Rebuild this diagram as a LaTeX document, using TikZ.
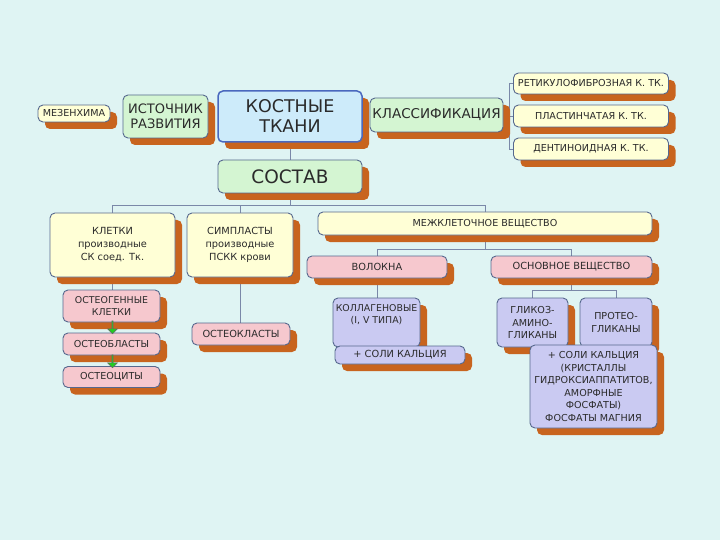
\documentclass[tikz,border=0pt]{standalone}
\usepackage{fontspec}
\setmainfont{DejaVu Sans}
\usetikzlibrary{shadows,shapes.arrows}
\definecolor{bg}{HTML}{DFF4F3}
\definecolor{bordc}{HTML}{56688E}
\definecolor{kostb}{HTML}{4A68BE}
\definecolor{shadc}{HTML}{C8641E}
\definecolor{linec}{HTML}{7A88A8}
\definecolor{txtc}{HTML}{2A2A2A}
\definecolor{creamc}{HTML}{FFFFD6}
\definecolor{greenc}{HTML}{D4F5D2}
\definecolor{bluec}{HTML}{CDEBFA}
\definecolor{pinkc}{HTML}{F6C8CE}
\definecolor{lavc}{HTML}{CACAF2}
\definecolor{arrc}{HTML}{22CC22}
\newcommand\fsz[2]{\fontsize{#1pt}{#2pt}\selectfont}
\pgfdeclarelayer{back}
\pgfdeclarelayer{lines}
\pgfsetlayers{back,lines,main}
\begin{document}
\begin{tikzpicture}[x=1pt,y=-1pt,
  box/.style={draw=bordc, line width=0.9pt, rounded corners=5pt,
    drop shadow={shadow xshift=7pt, shadow yshift=-7pt, fill=shadc, opacity=1},
    inner sep=1pt, align=center, text=txtc},
  cream/.style={box, fill=creamc},
  grn/.style={box, fill=greenc},
  blu/.style={box, fill=bluec, draw=kostb, line width=1.5pt},
  pnk/.style={box, fill=pinkc},
  lav/.style={box, fill=lavc},
  conn/.style={draw=linec, line width=0.6pt},
  garr/.style={single arrow, draw=black!60, fill=arrc, line width=0.5pt, rotate=-90,
    minimum width=10pt, minimum height=13pt, single arrow head extend=2pt, inner sep=0pt}
]
\useasboundingbox (0,0) rectangle (720,540);
\begin{pgfonlayer}{back}
\fill[bg] (0,0) rectangle (720,540);
\end{pgfonlayer}

% top row
\node[cream, minimum width=72pt, minimum height=17pt, font=\fsz{9.6}{11}] (mez) at (74,113.5) {МЕЗЕНХИМА};
\node[grn, minimum width=85pt, minimum height=43pt, font=\fsz{13}{15}] (ist) at (165.5,116.5) {ИСТОЧНИК\\РАЗВИТИЯ};
\node[blu, minimum width=144pt, minimum height=51pt, font=\fsz{17.5}{20}] (kost) at (290,116.5) {КОСТНЫЕ\\ТКАНИ};
\node[grn, minimum width=133pt, minimum height=34pt, font=\fsz{13.5}{15}] (klass) at (436.5,115) {КЛАССИФИКАЦИЯ};
\node[cream, minimum width=155pt, minimum height=21pt, font=\fsz{9.6}{11}] (ret) at (591,83.5) {РЕТИКУЛОФИБРОЗНАЯ К. ТК.};
\node[cream, minimum width=155pt, minimum height=22pt, font=\fsz{9.6}{11}] (plast) at (591,116) {ПЛАСТИНЧАТАЯ К. ТК.};
\node[cream, minimum width=155pt, minimum height=22pt, font=\fsz{9.6}{11}] (dent) at (591,149) {ДЕНТИНОИДНАЯ К. ТК.};

\node[grn, minimum width=144pt, minimum height=33pt, font=\fsz{18.5}{20}] (sost) at (290,176.5) {СОСТАВ};

% second row
\node[cream, minimum width=125pt, minimum height=64pt, font=\fsz{9.8}{13}] (klet) at (112.5,245) {КЛЕТКИ\\производные\\СК соед. Тк.};
\node[cream, minimum width=106pt, minimum height=64pt, font=\fsz{9.8}{13}] (simp) at (240,245) {СИМПЛАСТЫ\\производные\\ПСКК крови};
\node[cream, minimum width=334pt, minimum height=23pt, font=\fsz{9.6}{11}] (mezh) at (485,223.5) {МЕЖКЛЕТОЧНОЕ ВЕЩЕСТВО};

% cells
\node[pnk, minimum width=97pt, minimum height=32pt, font=\fsz{9.4}{12}] (osteog) at (111.5,306) {ОСТЕОГЕННЫЕ\\КЛЕТКИ};
\node[pnk, minimum width=97pt, minimum height=22pt, font=\fsz{9.6}{11}] (osteob) at (111.5,344) {ОСТЕОБЛАСТЫ};
\node[pnk, minimum width=97pt, minimum height=21pt, font=\fsz{9.6}{11}] (osteoc) at (111.5,377) {ОСТЕОЦИТЫ};
\node[garr] (a1) at (112.5,327) {};
\node[garr] (a2) at (112.5,361) {};
\node[pnk, minimum width=98pt, minimum height=22pt, font=\fsz{9.8}{11}] (osteok) at (241,334) {ОСТЕОКЛАСТЫ};

% matrix
\node[pnk, minimum width=140pt, minimum height=22pt, font=\fsz{9.8}{11}] (volok) at (377,267) {ВОЛОКНА};
\node[pnk, minimum width=161pt, minimum height=22pt, font=\fsz{9.8}{11}] (osnov) at (571.5,267) {ОСНОВНОЕ ВЕЩЕСТВО};
\node[lav, minimum width=87pt, minimum height=49pt, font=\fsz{9.4}{12.5}] (koll) at (376.5,322.5) {КОЛЛАГЕНОВЫЕ\\(I, V ТИПА)\\[4pt]};
\node[lav, minimum width=130pt, minimum height=18pt, font=\fsz{9.8}{11}] (soli1) at (400,355) {+ СОЛИ КАЛЬЦИЯ};
\node[lav, minimum width=71pt, minimum height=49pt, font=\fsz{9.6}{12.5}] (glik) at (532.5,322.5) {ГЛИКОЗ-\\АМИНО-\\ГЛИКАНЫ};
\node[lav, minimum width=72pt, minimum height=49pt, font=\fsz{9.6}{12.5}] (prot) at (616,322.5) {ПРОТЕО-\\ГЛИКАНЫ};
\node[lav, minimum width=127pt, minimum height=83pt, font=\fsz{9.6}{12.5}] (soli2) at (593.5,386.5) {+ СОЛИ КАЛЬЦИЯ\\(КРИСТАЛЛЫ\\ГИДРОКСИАППАТИТОВ,\\АМОРФНЫЕ\\ФОСФАТЫ)\\ФОСФАТЫ МАГНИЯ};

% connectors
\begin{pgfonlayer}{lines}
\coordinate (kc) at (509,115);
\draw[conn] (klass.east) -- (kc);
\draw[conn] (ret.west) -- (ret.west -| kc) -- (dent.west -| kc) -- (dent.west);
\draw[conn] (plast.west) -- (plast.west -| kc);
\draw[conn] (kost.south) -- (sost.north);
\coordinate (h1) at (0,205);
\draw[conn] (sost.south) -- (sost.south |- h1);
\draw[conn] (klet.north) -- (klet.north |- h1) -- (mezh.north |- h1) -- (mezh.north);
\draw[conn] (simp.north) -- (simp.north |- h1);
\draw[conn] (klet.south) -- (klet.south |- osteog.north);
\draw[conn] (simp.south) -- (simp.south |- osteok.north);
\coordinate (h2) at (0,249);
\draw[conn] (mezh.south) -- (mezh.south |- h2);
\draw[conn] (volok.north) -- (volok.north |- h2) -- (osnov.north |- h2) -- (osnov.north);
\draw[conn] (volok.south) -- (volok.south |- koll.north);
\coordinate (h3) at (0,290);
\draw[conn] (osnov.south) -- (osnov.south |- h3);
\draw[conn] (glik.north) -- (glik.north |- h3) -- (prot.north |- h3) -- (prot.north);
\end{pgfonlayer}
\end{tikzpicture}
\end{document}
